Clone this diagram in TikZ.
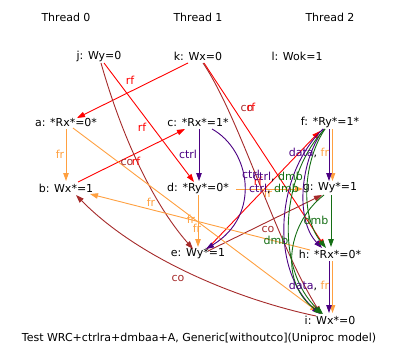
\documentclass[tikz,border=0pt]{standalone}
\usepackage{fontspec}
\setmainfont{DejaVu Sans}
\usetikzlibrary{arrows.meta}
\definecolor{rfc}{RGB}{255,0,0}
\definecolor{coc}{RGB}{165,42,42}
\definecolor{frc}{RGB}{255,160,64}
\definecolor{ctrlc}{RGB}{75,0,130}
\definecolor{dmbc}{RGB}{20,110,20}
\begin{document}
\begin{tikzpicture}[x=1pt,y=-1pt,
  every node/.style={font=\fontsize{11}{13}\selectfont, inner sep=0pt},
  ev/.style={anchor=center},
  lab/.style={anchor=center},
  edge/.style={line width=0.9pt,-{Triangle[length=8pt,width=5.5pt]}},
  rfe/.style={edge,draw=rfc},
  coe/.style={edge,draw=coc},
  fre/.style={edge,draw=frc},
  ctrle/.style={edge,draw=ctrlc},
  dmbe/.style={edge,draw=dmbc}]
\useasboundingbox (0,0) rectangle (398,361);
% thread titles
\node[ev] (t0) at (66,17) {Thread 0};
\node[ev] (t1) at (198,17) {Thread 1};
\node[ev] (t2) at (330,17) {Thread 2};
% events
\node[ev] (j) at (99,56) {j: Wy=0};
\node[ev] (k) at (198,56) {k: Wx=0};
\node[ev] (l) at (297,56) {l: Wok=1};
\node[ev] (a) at (66,122) {a: *Rx*=0*};
\node[ev] (c) at (198,122) {c: *Rx*=1*};
\node[ev] (f) at (330,122) {f: *Ry*=1*};
\node[ev] (b) at (66,188) {b: Wx*=1};
\node[ev] (d) at (198,188) {d: *Ry*=0*};
\node[ev] (g) at (330,188) {g: Wy*=1};
\node[ev] (e) at (198,254) {e: Wy*=1};
\node[ev] (h) at (330,254) {h: *Rx*=0*};
\node[ev] (i) at (330,320) {i: Wx*=0};
\node[ev] (title) at (199,338) {Test WRC+ctrlra+dmbaa+A, Generic[withoutco](Uniproc model)};
% rf edges
\draw[rfe] ([shift={(-10,7)}]k.center) -- ([shift={(11,-4)}]a.center);
\draw[rfe] ([shift={(5,7)}]j.center) -- ([shift={(-4,-6)}]d.center);
\draw[rfe] ([shift={(12,-6)}]b.center) -- ([shift={(-13,7)}]c.center);
\draw[rfe] ([shift={(6,7)}]k.center) -- ([shift={(-5,-7)}]h.center);
\draw[rfe] ([shift={(9,-5)}]e.center) -- ([shift={(-10,9)}]f.center);
% co edges
\draw[coe] ([shift={(2,7)}]j.center) .. controls (120,130) and (150,200) .. ([shift={(-5,-5)}]e.center);
\draw[coe] ([shift={(10,-3)}]e.center) -- ([shift={(-8,7)}]g.center);
\draw[coe] ([shift={(5,7)}]k.center) .. controls (240,118) and (275,240) .. ([shift={(-9,-6)}]i.center);
\draw[coe] ([shift={(-14,-4)}]i.center) .. controls (240,300) and (140,260) .. ([shift={(10,7)}]b.center);
% fr edges
\draw[fre] ([shift={(0,7)}]a.center) -- ([shift={(0,-7)}]b.center);
\draw[fre] ([shift={(7,6)}]a.center) -- ([shift={(-12,-8)}]i.center);
\draw[fre] ([shift={(0,7)}]d.center) -- ([shift={(0,-7)}]e.center);
\draw[fre] ([shift={(38,1)}]d.center) -- ([shift={(-27,1)}]g.center);
\draw[fre] ([shift={(-20,-4)}]h.center) -- ([shift={(24,6)}]b.center);
\draw[fre] ([shift={(2.5,7)}]f.center) -- ([shift={(2.5,-7)}]g.center);
\draw[fre] ([shift={(2.5,7)}]h.center) -- ([shift={(2.5,-7)}]i.center);
% ctrl / data edges
\draw[ctrle] ([shift={(1,7)}]c.center) -- ([shift={(1,-7)}]d.center);
\draw[ctrle] ([shift={(14,7)}]c.center) .. controls (250,150) and (262,215) .. ([shift={(8,-5)}]e.center);
\draw[ctrle] ([shift={(-1,7)}]f.center) -- ([shift={(-1,-7)}]g.center);
\draw[ctrle] ([shift={(-1,7)}]h.center) -- ([shift={(-1,-7)}]i.center);
\draw[ctrle] ([shift={(-6,7)}]f.center) .. controls (300,160) and (295,220) .. ([shift={(-8,-6)}]h.center);
\draw[ctrle] ([shift={(-7,7)}]f.center) .. controls (275,175) and (270,270) .. ([shift={(-10,-6)}]i.center);
% dmb edges
\draw[dmbe] ([shift={(1,7)}]g.center) -- ([shift={(1,-7)}]h.center);
\draw[dmbe] ([shift={(-5,7)}]f.center) .. controls (304,160) and (299,215) .. ([shift={(-4,-6)}]h.center);
\draw[dmbe] ([shift={(-5,7)}]f.center) .. controls (280,175) and (275,270) .. ([shift={(-7,-6)}]i.center);
\draw[dmbe] ([shift={(-6,7)}]g.center) .. controls (285,225) and (280,285) .. ([shift={(-8,-6)}]i.center);
% labels
\node[lab,text=rfc] (l1) at (130,80) {rf};
\node[lab,text=rfc] (l2) at (142,127) {rf};
\node[lab,text=coc] (l3) at (127,162) {co};
\node[lab,text=rfc] (l4) at (136,161) {rf};
\node[lab,text=frc] (l5) at (60,154) {fr};
\node[lab,text=frc] (l6) at (191,219) {fr};
\node[lab,text=frc] (l7) at (197,228) {fr};
\node[lab,text=ctrlc] (l8) at (188,154) {ctrl};
\node[lab,text=ctrlc] (l9) at (251,174) {ctrl};
\node[lab,text=frc] (l10) at (151,202) {fr};
\node[lab,text=frc] (l11) at (268,193) {fr};
\node[lab,text=rfc] (l12) at (258,181) {rf};
\node[lab,text=coc] (l13) at (268,229) {co};
\node[lab,text=coc] (l14) at (178,278) {co};
\node[lab,text=coc] (l15) at (247,108) {co};
\node[lab,text=rfc] (l16) at (251,107) {rf};
\node[lab] (l17) at (309,153) {\textcolor{ctrlc}{data}, \textcolor{frc}{fr}};
\node[lab] (l18) at (309,286) {\textcolor{ctrlc}{data}, \textcolor{frc}{fr}};
\node[lab,text=dmbc] (l19) at (316,220) {dmb};
\node[lab] (l20) at (278,177) {\textcolor{ctrlc}{ctrl}, \textcolor{dmbc}{dmb}};
\node[lab] (l21) at (274,189) {\textcolor{ctrlc}{ctrl}, \textcolor{dmbc}{dmb}};
\node[lab,text=dmbc] (l22) at (276,240) {dmb};
\end{tikzpicture}
\end{document}
